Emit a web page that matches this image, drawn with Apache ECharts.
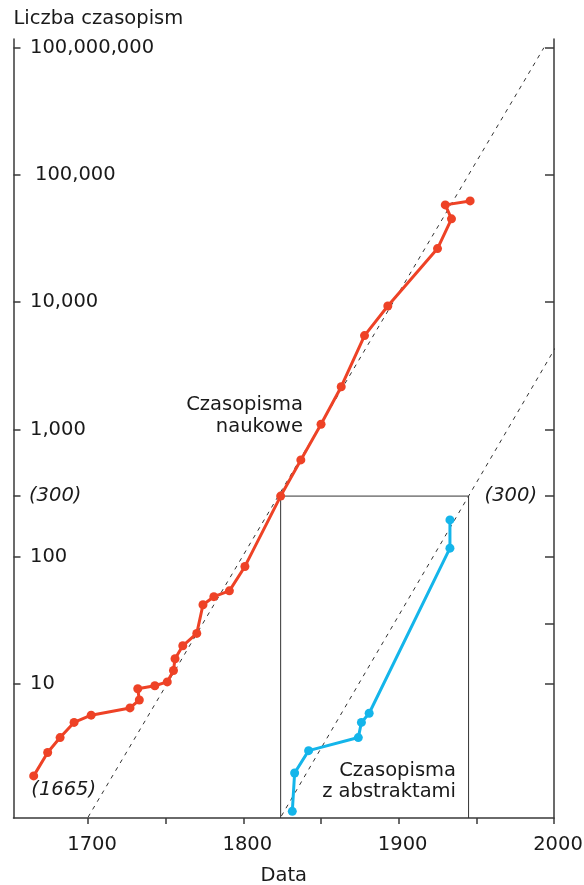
<!DOCTYPE html>
<html>
<head>
<meta charset="utf-8">
<script src="https://cdn.jsdelivr.net/npm/echarts@6/dist/echarts.min.js"></script>
<style>
  html, body { margin: 0; padding: 0; background: #ffffff; }
  #chart { width: 584px; height: 885px; }
</style>
</head>
<body>
<div id="chart"></div>
<script>
// Growth in the number of scientific journals and abstract journals (log scale)

// Scientific journals
const journalYears  = [1665, 1674, 1682, 1691, 1702, 1727, 1733, 1732, 1743, 1751, 1755, 1756, 1761, 1770,
                       1774, 1781, 1791, 1801, 1824, 1837, 1850, 1863, 1878, 1893, 1925, 1934, 1930, 1946];
const journalCounts = [1.9, 2.9, 3.8, 5.0, 5.7, 6.5, 7.5, 9.2, 9.7, 10.4, 12.8, 15.8, 20, 25,
                       42, 48.6, 54, 84, 300, 577, 1100, 2170, 5470, 9350, 26400, 45200, 58200, 62500];

// Abstract journals
const abstractYears  = [1831.5, 1833, 1842, 1874, 1876, 1881, 1933, 1933];
const abstractCounts = [1, 2, 3, 3.8, 5, 5.9, 117, 195];

// Exponential trend lines (start / end points)
const trendJournalsYears  = [1700, 1993.5];
const trendJournalsCounts = [0.9, 1000000];
const trendAbstractYears  = [1824.5, 2015];
const trendAbstractCounts = [0.92, 8650];

// Inset frame: the period after the journal count reached 300
const frameYears = [1824, 1945];
const frameTop = 300;

// Axes
const xMin = 1652, xMax = 2000;
const xTickValues  = [1700, 1750, 1800, 1850, 1900, 1950, 2000];
const xLabelValues = [1700, 1800, 1900, 2000];
const yMin = 0.887, yMax = 1170000;
const yTickValues = [10, 100, 300, 1000, 10000, 100000, 1000000];
const yTickText   = ['10', '100', '(300)', '1,000', '10,000', '100,000', '100,000,000'];
const rightTickValues  = [10, 30, 100, 300, 1000, 10000, 100000, 1000000];
const rightLabelValues = [300];

const FONT = "'DejaVu Sans', Verdana, sans-serif";
const INK = '#1a1a1a';
const AXIS = '#3a3a3a';
const RED = '#EE4226';
const BLUE = '#14B5EA';
const FS = 19.5;

const pairs = (xs, ys) => xs.map((x, i) => [x, ys[i]]);

const journalData = pairs(journalYears, journalCounts);
journalData[0] = {
  value: journalData[0],
  label: {
    show: true, position: 'inside', offset: [30, 14],
    formatter: p => '(' + p.value[0] + ')',
    fontFamily: FONT, fontSize: FS, fontStyle: 'italic', color: INK
  }
};

const chart = echarts.init(document.getElementById('chart'), null, { renderer: 'canvas' });

const labelStyle = { fontFamily: FONT, fontSize: FS, color: INK };

chart.setOption({
  animation: false,
  backgroundColor: '#ffffff',
  grid: { left: 13.5, right: 30, top: 39, bottom: 67, containLabel: false, outerBoundsMode: 'none' },
  xAxis: {
    type: 'value', min: xMin, max: xMax,
    axisLine: { show: true, lineStyle: { color: AXIS, width: 1.5 } },
    axisTick: { show: true, customValues: xTickValues, length: 6, lineStyle: { color: AXIS, width: 1.5 } },
    axisLabel: Object.assign({
      customValues: xLabelValues, margin: 27, verticalAlign: 'middle', padding: [0, 0, 0, 8],
      formatter: v => String(v)
    }, labelStyle),
    splitLine: { show: false },
    name: 'Data', nameLocation: 'middle', nameGap: 58,
    nameTextStyle: Object.assign({ verticalAlign: 'middle' }, labelStyle)
  },
  yAxis: [
    {
      type: 'log', logBase: 10, min: yMin, max: yMax, position: 'left',
      axisLine: { show: true, lineStyle: { color: AXIS, width: 1.5 } },
      axisTick: { show: true, customValues: yTickValues, inside: true, length: 7, lineStyle: { color: AXIS, width: 1.5 } },
      axisLabel: Object.assign({
        customValues: yTickValues, inside: true, margin: 0,
        formatter: v => {
          const i = yTickValues.findIndex(t => Math.abs(t - v) / t < 1e-6);
          const txt = i >= 0 ? yTickText[i] : String(v);
          const style = txt.startsWith('(') ? 'it' : (txt === '100,000' ? 'w' : 'n');
          return '{' + style + '|' + txt + '}';
        },
        rich: {
          n:  Object.assign({ padding: [0, 0, 0, 16.5] }, labelStyle),
          w:  Object.assign({ padding: [0, 0, 0, 21.5] }, labelStyle),
          it: Object.assign({ padding: [0, 0, 0, 15.5], fontStyle: 'italic' }, labelStyle)
        }
      }, labelStyle),
      splitLine: { show: false },
      name: 'Liczba czasopism', nameLocation: 'end', nameGap: 20,
      nameTextStyle: Object.assign({ align: 'left', verticalAlign: 'middle' }, labelStyle)
    },
    {
      type: 'log', logBase: 10, min: yMin, max: yMax, position: 'right',
      axisLine: { show: true, lineStyle: { color: AXIS, width: 1.5 } },
      axisTick: { show: true, customValues: rightTickValues, inside: true, length: 9, lineStyle: { color: AXIS, width: 1.5 } },
      axisLabel: Object.assign({
        customValues: rightLabelValues, inside: true, margin: 17, fontStyle: 'italic',
        formatter: v => '(' + Math.round(v) + ')'
      }, labelStyle),
      splitLine: { show: false }
    }
  ],
  series: [
    {
      name: 'trend-journals', type: 'line', data: pairs(trendJournalsYears, trendJournalsCounts),
      symbol: 'none', silent: true, clip: false, z: 1,
      lineStyle: { color: '#333333', width: 1, type: [4, 5] }
    },
    {
      name: 'trend-abstracts', type: 'line', data: pairs(trendAbstractYears, trendAbstractCounts),
      symbol: 'none', silent: true, clip: false, z: 1,
      lineStyle: { color: '#333333', width: 1, type: [4, 5] }
    },
    {
      name: 'frame', type: 'line',
      data: [[frameYears[0], yMin], [frameYears[0], frameTop], [frameYears[1], frameTop], [frameYears[1], yMin]],
      symbol: 'none', silent: true, clip: false, z: 1,
      lineStyle: { color: '#333333', width: 1 }
    },
    {
      name: 'Czasopisma naukowe', type: 'line', data: journalData,
      symbol: 'circle', symbolSize: 9, showAllSymbol: true, z: 3,
      itemStyle: { color: RED }, lineStyle: { color: RED, width: 3 }
    },
    {
      name: 'Czasopisma z abstraktami', type: 'line', data: pairs(abstractYears, abstractCounts),
      symbol: 'circle', symbolSize: 9, showAllSymbol: true, z: 3,
      itemStyle: { color: BLUE }, lineStyle: { color: BLUE, width: 3 }
    }
  ],
  graphic: [
    {
      type: 'text', x: 303, y: 415.5, silent: true,
      style: {
        text: 'Czasopisma\nnaukowe', align: 'right', verticalAlign: 'middle', lineHeight: 22,
        fontFamily: FONT, fontSize: FS, fill: INK
      }
    },
    {
      type: 'text', x: 456, y: 781, silent: true,
      style: {
        text: 'Czasopisma\nz abstraktami', align: 'right', verticalAlign: 'middle', lineHeight: 21,
        fontFamily: FONT, fontSize: FS, fill: INK
      }
    }
  ]
});
</script>
</body>
</html>
